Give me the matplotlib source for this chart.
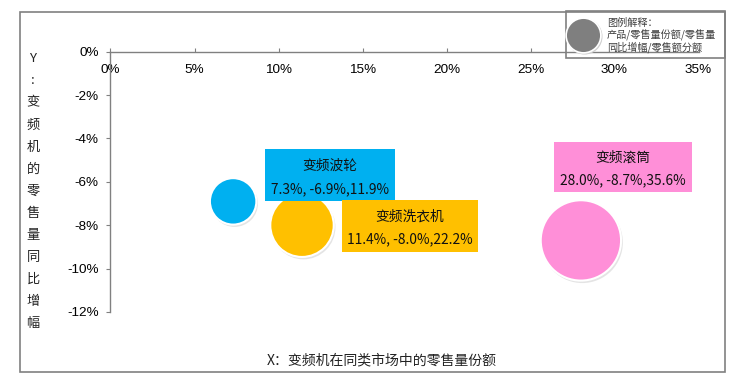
import matplotlib

matplotlib.use("Agg")
import matplotlib.pyplot as plt
from matplotlib.lines import Line2D
from matplotlib.patches import Rectangle
from matplotlib import transforms

# data
names = ["变频波轮", "变频洗衣机", "变频滚筒"]
share = [7.3, 11.4, 28.0]        # X: retail volume share (%)
growth = [-6.9, -8.0, -8.7]      # Y: year-on-year change (%)
amount = [11.9, 22.2, 35.6]      # bubble: retail value share (%)
colors = ["#00B0F0", "#FFC000", "#FF8FD8"]

x_ticks = [0, 5, 10, 15, 20, 25, 30, 35]
y_ticks = [0, -2, -4, -6, -8, -10, -12]
y_title = ["Y", ":", "变", "频", "机", "的", "零", "售", "量", "同", "比", "增", "幅"]
x_title = "X：变频机在同类市场中的零售量份额"
legend_lines = ["图例解释：", "产品/零售量份额/零售量", "同比增幅/零售额分额"]

# label box layout (data coords: centre, width, height)
box_xy = [(13.06, -5.68), (17.82, -8.03), (30.5, -5.31)]
box_wh = [(7.74, 2.38), (8.11, 2.38), (8.21, 2.30)]

W, H = 735, 381
CJK = ["Noto Sans CJK SC", "DejaVu Sans"]
GRID = "#808080"


def fx(px):
    return px / W


def fy(py):
    return 1 - py / H


fig = plt.figure(figsize=(W / 100, H / 100), dpi=100)
fig.patch.set_facecolor("white")

# outer frame and legend box
fig.add_artist(Rectangle((fx(20), fy(372)), fx(725) - fx(20), fy(11.5) - fy(372),
                         transform=fig.transFigure, fill=False, ec=GRID, lw=1.2, zorder=0))
fig.add_artist(Rectangle((fx(565.7), fy(57.7)), fx(725) - fx(565.7), fy(11.5) - fy(57.7),
                         transform=fig.transFigure, fill=False, ec=GRID, lw=1.2, zorder=0))

ax = fig.add_axes([fx(110.5), fy(312), fx(698.5) - fx(110.5), fy(51.7) - fy(312)])
ax.set_xlim(0, 35)
ax.set_ylim(-12, 0)
ax.patch.set_alpha(0)

for s in ("top", "right"):
    ax.spines[s].set_visible(False)
ax.spines["bottom"].set_position(("data", 0))
for s in ("bottom", "left"):
    ax.spines[s].set_color(GRID)
    ax.spines[s].set_linewidth(1.0)

ax.set_xticks(x_ticks)
ax.set_xticklabels(["%d%%" % v for v in x_ticks])
ax.set_yticks(y_ticks)
ax.set_yticklabels(["%d%%" % v for v in y_ticks])
ax.tick_params(axis="x", direction="in", length=3, width=0.8, color=GRID, pad=9,
               labelsize=9.7, labelcolor="black")
ax.tick_params(axis="y", direction="out", length=3, width=0.8, color=GRID, pad=5.5,
               labelsize=9.7, labelcolor="black")
for lab in ax.get_xticklabels() + ax.get_yticklabels():
    lab.set_family("Liberation Sans")

# bubbles with a soft drop shadow
sizes = [a * 94 for a in amount]
shadow = transforms.offset_copy(ax.transData, fig=fig, x=1.0, y=-1.5, units="points")
ax.scatter(share, growth, s=[v * 1.02 for v in sizes], color="#c4c4c4", alpha=0.45,
           lw=0, transform=shadow, zorder=2, clip_on=False)
ax.scatter(share, growth, s=sizes, color=colors, edgecolors="white", linewidths=1.5,
           zorder=3, clip_on=False)

# data labels
for name, x, y, a, c, (bx, by), (bw, bh) in zip(names, share, growth, amount, colors,
                                                 box_xy, box_wh):
    ax.add_patch(Rectangle((bx - bw / 2, by - bh / 2), bw, bh, color=c, lw=0,
                           zorder=4, clip_on=False))
    ax.annotate(name, (bx, by), xytext=(0, 6.6), textcoords="offset points",
                ha="center", va="center", fontsize=9.9, family=CJK, color="#111111",
                zorder=5, annotation_clip=False)
    ax.annotate("%.1f%%, %.1f%%,%.1f%%" % (x, y, a), (bx, by), xytext=(0, -10),
                textcoords="offset points", ha="center", va="center", fontsize=9.9,
                family=CJK, color="#111111", zorder=5, annotation_clip=False)

# axis titles
for i, ch in enumerate(y_title):
    fig.text(fx(33), fy(59 + i * 22), ch, ha="center", va="center", fontsize=9.5,
             family=CJK, color="#222222")
fig.text(fx(382), fy(360), x_title, ha="center", va="center", fontsize=10,
         family=CJK, color="#222222")

# legend explanation
fig.add_artist(Line2D([fx(584.3)], [fy(36.3)], marker="o", markersize=25,
                      color="#d0d0d0", lw=0, transform=fig.transFigure, zorder=1))
fig.add_artist(Line2D([fx(583)], [fy(35)], marker="o", markersize=25,
                      markerfacecolor="#7F7F7F", markeredgecolor="white",
                      markeredgewidth=1.2, lw=0, transform=fig.transFigure, zorder=1))
for py, line in zip([22.7, 35.7, 46.7], legend_lines):
    fig.text(fx(607), fy(py), line, ha="left", va="center", fontsize=7.3,
             family=CJK, color="#404040")

fig.savefig("out.png", dpi=100, facecolor="white")
